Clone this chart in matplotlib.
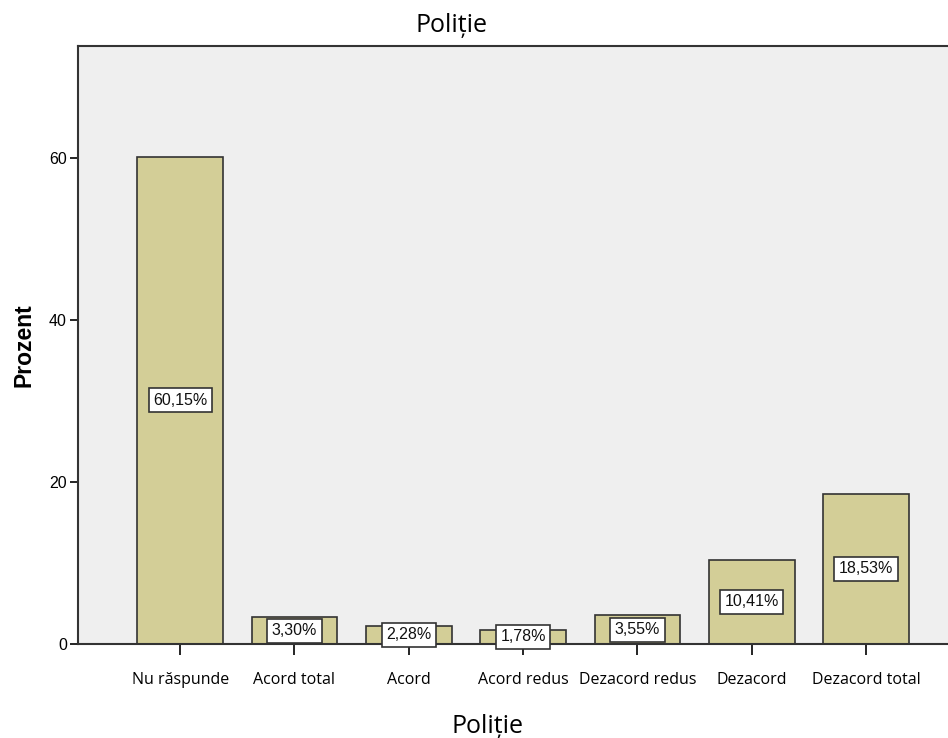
import matplotlib
matplotlib.use('Agg')
import matplotlib.pyplot as plt

categories = ['Nu răspunde', 'Acord total', 'Acord', 'Acord redus',
              'Dezacord redus', 'Dezacord', 'Dezacord total']
percent = [60.15, 3.30, 2.28, 1.78, 3.55, 10.41, 18.53]
yticks = [0, 20, 40, 60]

fig = plt.figure(figsize=(9.48, 7.38), dpi=100)
ax = fig.add_axes([78 / 948, 1 - 644 / 738, 1 - 78 / 948 + 0.01, (644 - 46) / 738])
ax.set_facecolor('#efefef')

x = list(range(len(categories)))
ax.bar(x, percent, width=0.75, color='#d3ce97', edgecolor='#333333', linewidth=1.2, zorder=2)

# value labels in the middle of each bar
for xi, v in zip(x, percent):
    ax.text(xi, v / 2, f'{v:.2f}%'.replace('.', ','), ha='center', va='center',
            fontsize=11.5, family='Liberation Sans', color='#111111', zorder=3,
            bbox=dict(boxstyle='square,pad=0.28', fc='white', ec='#333333', lw=1.2))

ax.set_xlim(-0.894, 6.8)
ax.set_ylim(0, 73.8)
ax.set_xticks(x)
ax.set_xticklabels(categories, fontsize=11.5, family='Open Sans')
ax.set_yticks(yticks)
ax.set_yticklabels([str(t) for t in yticks], fontsize=11.5, family='Liberation Sans')
ax.tick_params(axis='x', length=8, width=1.2, pad=12)
ax.tick_params(axis='y', length=6, width=1.2, pad=2)

for side in ['top', 'left', 'bottom']:
    ax.spines[side].set_color('#333333')
    ax.spines[side].set_linewidth(1.5)
ax.spines['right'].set_visible(False)

ax.set_ylabel('Prozent', fontsize=16.5, fontweight='bold', family='Liberation Sans', labelpad=10)
fig.text(452 / 948, 1 - 32 / 738, 'Poliție', ha='center', va='baseline',
         fontsize=18, family='Open Sans')
fig.text(487 / 948, 1 - 733 / 738, 'Poliție', ha='center', va='baseline',
         fontsize=18, family='Open Sans')

plt.savefig('out.png', dpi=100)
plt.close()
